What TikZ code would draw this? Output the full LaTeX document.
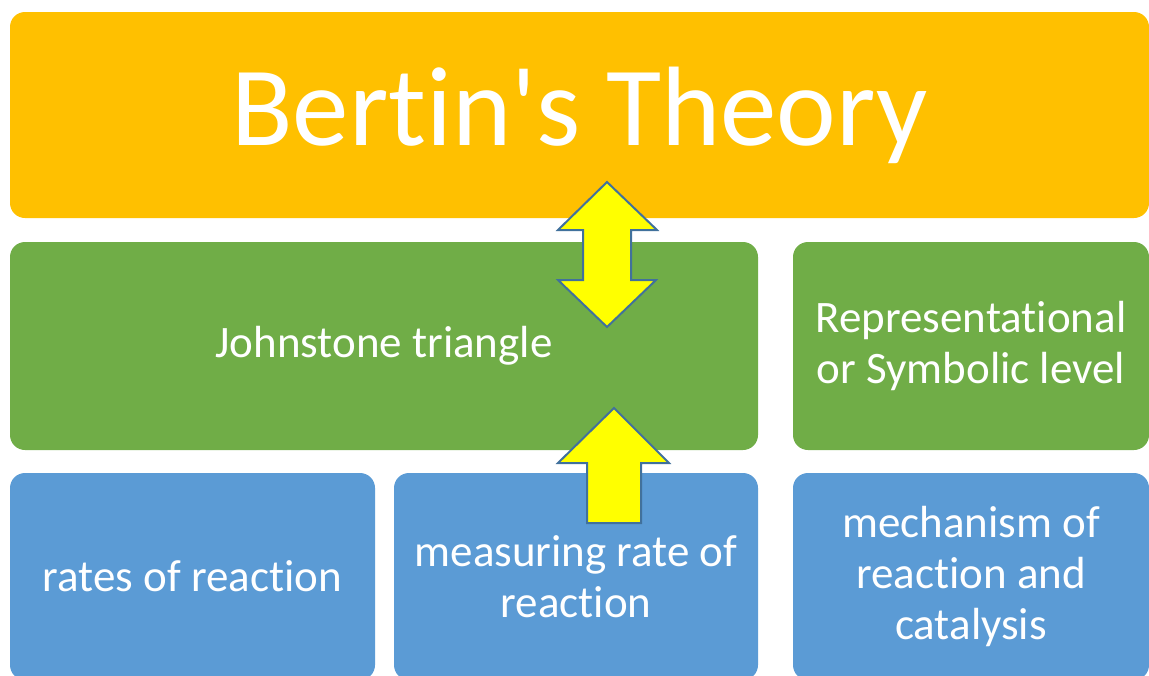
\documentclass[tikz,border=0pt]{standalone}
\usepackage{fontspec}
\setmainfont{Carlito}[Ligatures={NoCommon}]
\usepackage{tikz}
\definecolor{titleorange}{HTML}{FFC000}
\definecolor{levelgreen}{HTML}{70AD47}
\definecolor{topicblue}{HTML}{5B9BD5}
\definecolor{arrowyellow}{HTML}{FFFF00}
\definecolor{arrowedge}{HTML}{41719C}

\tikzset{
  tile/.style={rounded corners=15pt, inner sep=0pt, text=white, align=center,
    font=\fontsize{45}{51}\selectfont},
  blockarrow/.style={fill=arrowyellow, draw=arrowedge, line width=2pt, line join=miter}
}

\begin{document}
\begin{tikzpicture}[x=1pt, y=-1pt]
  \useasboundingbox (0,0) rectangle (1149,675);
  \clip (0,0) rectangle (1149,675);

  % top banner
  \node[tile, fill=titleorange, minimum width=1139pt, minimum height=206pt,
        font=\fontsize{113}{120}\selectfont] (bertin) at (579.5,115) {Bertin\textquotesingle s Theory};

  % levels
  \node[tile, fill=levelgreen, minimum width=748pt, minimum height=208pt]
    (johnstone) at (384,346) {Johnstone triangle};
  \node[tile, fill=levelgreen, minimum width=356pt, minimum height=208pt]
    (symbolic) at (971,346) {Representational\\or Symbolic level};

  % topics
  \node[tile, fill=topicblue, minimum width=365pt, minimum height=207pt]
    (rates) at (192.5,576.5) {rates of reaction};
  \node[tile, fill=topicblue, minimum width=364pt, minimum height=207pt]
    (measuring) at (576,576.5) {measuring rate of\\reaction};
  \node[tile, fill=topicblue, minimum width=356pt, minimum height=207pt]
    (mechanism) at (971,576.5) {mechanism of\\reaction and\\catalysis};

  % block arrows
  \draw[blockarrow] (607,182) -- (657,230) -- (631,230) -- (631,280) -- (656,280)
    -- (607,327) -- (558,280) -- (583,280) -- (583,230) -- (558,230) -- cycle;
  \draw[blockarrow] (614,408) -- (669,463) -- (641,463) -- (641,523)
    -- (587,523) -- (587,463) -- (558,463) -- cycle;
\end{tikzpicture}
\end{document}
